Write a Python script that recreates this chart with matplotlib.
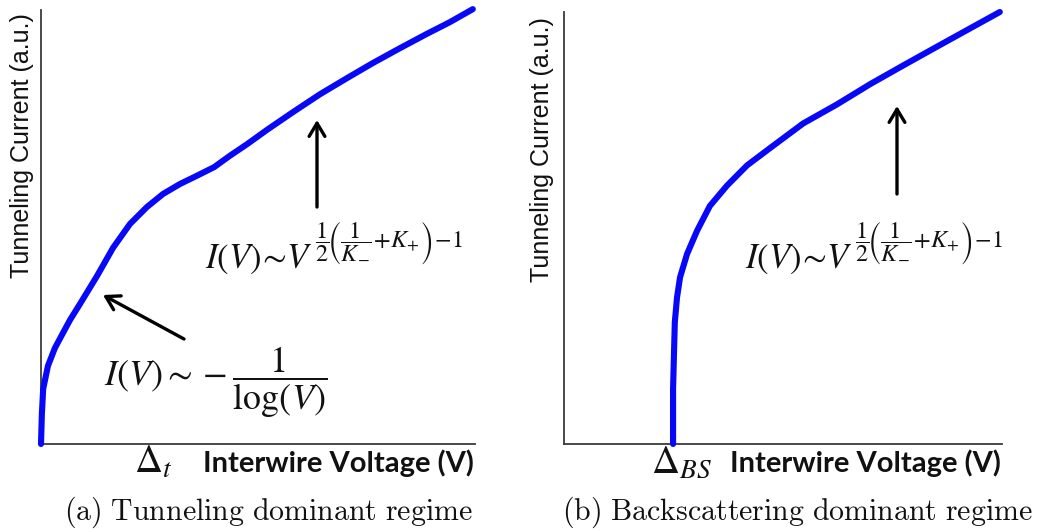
import matplotlib
matplotlib.use("Agg")
import matplotlib.pyplot as plt
from matplotlib.patches import FancyArrowPatch

# ---- data (arbitrary units) ----
volt_a = [0.00, 0.02, 0.05, 0.16, 0.32, 0.48, 0.67, 0.90, 1.29, 1.66, 2.05, 2.44, 2.81,
          3.20, 3.59, 3.99, 4.35, 4.75, 5.21, 5.81, 6.43, 7.05, 7.65, 8.27, 8.89, 9.42, 9.95]
curr_a = [0.00, 0.69, 1.27, 1.80, 2.21, 2.51, 2.86, 3.23, 3.87, 4.52, 5.07, 5.46, 5.76,
          5.99, 6.18, 6.38, 6.64, 6.91, 7.24, 7.65, 8.06, 8.43, 8.78, 9.12, 9.45, 9.72, 10.02]

volt_b = [2.49, 2.49, 2.51, 2.53, 2.58, 2.65, 2.81, 3.04, 3.33, 3.72, 4.18, 4.77, 5.46,
          6.23, 6.99, 7.74, 8.52, 9.27, 9.95]
curr_b = [0.00, 1.27, 2.05, 2.82, 3.39, 3.86, 4.40, 4.94, 5.51, 5.98, 6.45, 6.90, 7.42,
          7.86, 8.33, 8.76, 9.20, 9.62, 10.00]

ylabel = "Tunneling Current (a.u.)"
xlabel = "Interwire Voltage (V)"
captions = [r"$\mathrm{(a)\ Tunneling\ dominant\ regime}$",
            r"$\mathrm{(b)\ Backscattering\ dominant\ regime}$"]
power_base = r"$I(V)\!\sim\! V$"
power_exp = r"$\dfrac{1}{2}\!\left(\dfrac{1}{K_{-}}\!+\!K_{+}\right)\!-\!1$"
log_law = r"$I(V)\sim -\dfrac{1}{\log(V)}$"

W, H = 1037, 532
plt.rcParams["mathtext.fontset"] = "stix"
fig = plt.figure(figsize=(W / 100, H / 100), dpi=100)


def fx(px):
    return px / W


def fy(py):
    return 1 - py / H


def make_axes(left, right, top, bottom):
    ax = fig.add_axes([fx(left), fy(bottom), fx(right) - fx(left), (bottom - top) / H])
    ax.set_xlim(0, 10)
    ax.set_ylim(0, 10)
    for s in ["top", "right"]:
        ax.spines[s].set_visible(False)
    for s in ["left", "bottom"]:
        ax.spines[s].set_color("#3a3a3a")
        ax.spines[s].set_linewidth(1.3)
    ax.set_xticks([])
    ax.set_yticks([])
    ax.patch.set_alpha(0)
    return ax


ax_a = make_axes(41, 475, 10, 444)
ax_b = make_axes(564, 1002, 12, 444)

blue = "#0808f8"
ax_a.plot(volt_a, curr_a, color=blue, lw=4.4, solid_capstyle="round",
          solid_joinstyle="round", clip_on=False, zorder=3)
ax_b.plot(volt_b, curr_b, color=blue, lw=4.4, solid_capstyle="round",
          solid_joinstyle="round", clip_on=False, zorder=3)

ink = "#111111"
# y labels
fig.text(fx(22), fy(146), ylabel, rotation=90, ha="center", va="center",
         family="Liberation Sans", fontsize=18, color=ink)
fig.text(fx(542), fy(150), ylabel, rotation=90, ha="center", va="center",
         family="Liberation Sans", fontsize=18, color=ink)

# x labels
fig.text(fx(474), fy(472), xlabel, ha="right", va="baseline",
         family="Lato", weight="bold", fontsize=21, color=ink)
fig.text(fx(1001), fy(472), xlabel, ha="right", va="baseline",
         family="Lato", weight="bold", fontsize=21, color=ink)

# threshold symbols
fig.text(fx(134), fy(473), r"$\Delta_t$", ha="left", va="baseline", fontsize=28, color=ink)
fig.text(fx(651), fy(473), r"$\Delta_{BS}$", ha="left", va="baseline", fontsize=28, color=ink)

# formulas
bases = [fig.text(fx(205), fy(268), power_base, ha="left", va="baseline", fontsize=25, color=ink),
         fig.text(fx(745), fy(268), power_base, ha="left", va="baseline", fontsize=25, color=ink)]
fig.text(fx(104), fy(386), log_law, ha="left", va="baseline", fontsize=26, color=ink)

fig.canvas.draw()
renderer = fig.canvas.get_renderer()
for t in bases:
    bb = t.get_window_extent(renderer)
    fig.text((bb.x1 + 2) / W, fy(247), power_exp, ha="left", va="baseline",
             fontsize=17.5, color=ink)

# arrows
arrow_kw = dict(arrowstyle="->,head_length=0.45,head_width=0.27", lw=2.4, color="black",
                shrinkA=0, shrinkB=0, mutation_scale=21, transform=fig.transFigure)
fig.add_artist(FancyArrowPatch((fx(317), fy(207)), (fx(317), fy(120)), **arrow_kw))
fig.add_artist(FancyArrowPatch((fx(184), fy(339)), (fx(103), fy(295)), **arrow_kw))
fig.add_artist(FancyArrowPatch((fx(897), fy(194)), (fx(897), fy(106)), **arrow_kw))

# captions
fig.text(fx(268), fy(512), captions[0], ha="center", va="center", fontsize=21.5,
         math_fontfamily="cm", color=ink)
fig.text(fx(797), fy(512), captions[1], ha="center", va="center", fontsize=21.5,
         math_fontfamily="cm", color=ink)

fig.savefig("out.png", dpi=100, facecolor="white")
